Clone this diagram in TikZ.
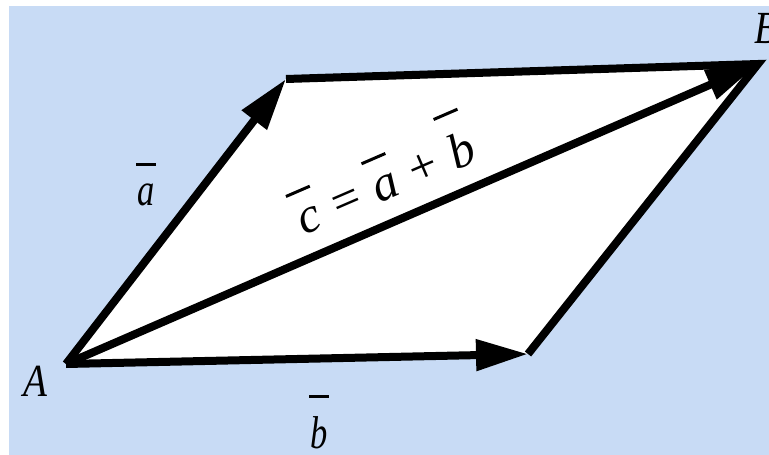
\documentclass[tikz,border=0pt]{standalone}
\usepackage{fontspec}
\setmainfont{Liberation Serif}
\usetikzlibrary{arrows.meta}
\definecolor{bgblue}{RGB}{200,219,245}
\newcommand\vb[2]{\ooalign{\itshape #1\cr\hidewidth\raisebox{#2}{\rule{26pt}{3pt}}\hidewidth\cr}}
\begin{document}
\begin{tikzpicture}[x=1pt,y=-1pt,
  edge/.style={line width=8pt,line join=miter},
  vec/.style={line width=8pt,-{Triangle[length=52pt,width=30pt]}},
  lbl/.style={font=\fontsize{46}{50}\selectfont\itshape,inner sep=0pt},
  eq/.style={font=\fontsize{50}{54}\selectfont\itshape,inner sep=0pt}]
\useasboundingbox (0,0) rectangle (769,455);
\fill[white] (0,0) rectangle (769,455);
\fill[bgblue] (9,6) rectangle (769,455);
\coordinate (A) at (66,364);
\coordinate (P) at (286,79);
\coordinate (B) at (758,64);
\coordinate (Q) at (528,354);
\fill[white] (A) -- (P) -- (B) -- (Q) -- cycle;
\draw[edge] (P) -- (B) -- (Q);
\draw[vec] (A) -- (P);
\draw[vec] (A) -- (Q);
\draw[vec] (A) -- (B);
\node[lbl] (la) at (35,381) {\scalebox{0.85}[1]{A}};
\node[lbl,anchor=west] (lb) at (754,29) {\scalebox{0.85}[1]{B}};
\node[lbl,anchor=base] (lva) at (146,205) {\scalebox{0.75}[1]{\vb{a}{39pt}}};
\node[lbl,anchor=base] (lvb) at (319,448) {\scalebox{0.75}[1]{\vb{b}{50pt}}};
\node[eq,anchor=base,rotate=23.4] (lc) at (392,198) {\vb{c}{42pt} = \vb{a}{42pt} + \vb{b}{54pt}};
\end{tikzpicture}
\end{document}
